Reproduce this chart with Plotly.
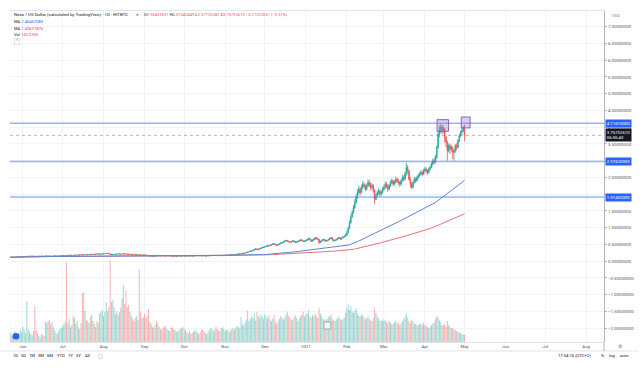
import pandas as pd
import plotly.graph_objects as go

# ---------------- data ----------------
start_date = "2020-05-22"
first_open = 0.116
last_open = 3.96459631

close = [
    0.118,0.121,0.119,0.122,0.125,0.128,0.126,0.130,0.132,0.135,
    0.138,0.142,0.140,0.145,0.148,0.146,0.150,0.152,0.149,0.147,0.144,0.146,0.150,0.153,0.151,0.148,0.150,0.155,0.158,0.156,0.152,0.150,0.153,0.157,0.160,0.158,0.155,0.157,0.160,0.162,
    0.165,0.168,0.170,0.167,0.172,0.176,0.180,0.178,0.175,0.180,0.184,0.182,0.186,0.190,0.188,0.185,0.190,0.194,0.192,0.196,0.200,0.198,0.204,0.210,0.206,0.212,0.220,0.216,0.210,0.214,0.218,
    0.222,0.226,0.230,0.235,0.228,0.205,0.198,0.202,0.206,0.210,0.214,0.218,0.215,0.212,0.216,0.220,0.218,0.214,0.208,0.205,0.210,0.206,0.200,0.196,0.192,0.195,0.190,0.186,0.182,0.185,0.188,
    0.184,0.180,0.168,0.160,0.155,0.158,0.152,0.156,0.160,0.158,0.162,0.165,0.163,0.166,0.164,0.160,0.158,0.161,0.163,0.160,0.155,0.152,0.148,0.150,0.153,0.155,0.157,0.156,0.154,0.156,
    0.158,0.155,0.153,0.156,0.158,0.156,0.154,0.157,0.160,0.163,0.165,0.162,0.160,0.163,0.161,0.158,0.156,0.159,0.162,0.165,0.168,0.172,0.170,0.174,0.171,0.168,0.166,0.170,0.168,0.172,0.175,
    0.178,0.182,0.180,0.185,0.190,0.195,0.200,0.198,0.205,0.210,0.215,0.220,0.225,0.232,0.240,0.250,0.262,0.275,0.290,0.300,0.315,0.330,0.350,0.370,0.345,0.360,0.380,0.395,0.410,0.420,
    0.435,0.450,0.470,0.460,0.480,0.500,0.520,0.510,0.495,0.480,0.500,0.520,0.540,0.560,0.580,0.600,0.620,0.600,0.585,0.570,0.590,0.610,0.580,0.560,0.575,0.600,0.620,0.640,0.610,0.590,0.600,
    0.620,0.650,0.680,0.640,0.600,0.630,0.660,0.700,0.680,0.650,0.560,0.590,0.620,0.650,0.630,0.600,0.620,0.650,0.680,0.700,0.640,0.610,0.630,0.650,0.680,0.700,0.660,0.690,0.720,0.740,0.780,
    0.850,0.980,1.150,1.320,1.450,1.600,1.750,1.900,2.050,2.150,2.050,2.200,2.300,2.250,2.150,2.250,2.350,2.300,2.200,2.250,2.100,1.850,1.950,2.050,2.100,2.000,2.050,2.150,
    2.200,2.300,2.250,2.150,2.250,2.350,2.400,2.300,2.350,2.450,2.400,2.350,2.300,2.400,2.500,2.450,2.600,2.800,2.700,2.450,2.300,2.200,2.350,2.450,2.400,2.500,2.550,2.600,2.650,2.600,2.700,
    2.750,2.700,2.650,2.750,2.800,2.900,3.000,2.950,3.100,3.400,3.800,3.950,4.000,3.900,3.950,3.700,3.550,3.300,3.450,3.350,3.400,3.250,3.300,3.450,3.400,3.600,3.750,3.850,3.900,3.970,
    3.757,
]
high = [
    0.122,0.124,0.123,0.125,0.128,0.131,0.130,0.133,0.135,0.138,
    0.141,0.145,0.146,0.148,0.151,0.152,0.153,0.156,0.155,0.152,0.150,0.149,0.153,0.157,0.156,0.154,0.153,0.158,0.162,0.161,0.159,0.155,0.156,0.160,0.164,0.163,0.161,0.160,0.163,0.166,
    0.169,0.172,0.174,0.173,0.176,0.180,0.184,0.183,0.180,0.184,0.188,0.187,0.190,0.195,0.193,0.191,0.196,0.199,0.197,0.200,0.205,0.204,0.209,0.216,0.213,0.217,0.226,0.224,0.219,0.219,0.223,
    0.227,0.231,0.236,0.242,0.238,0.232,0.208,0.207,0.211,0.215,0.219,0.223,0.221,0.218,0.221,0.226,0.224,0.221,0.216,0.211,0.215,0.212,0.207,0.202,0.198,0.200,0.197,0.192,0.189,0.190,0.193,
    0.190,0.187,0.182,0.170,0.163,0.163,0.160,0.160,0.165,0.163,0.166,0.169,0.168,0.170,0.169,0.166,0.163,0.165,0.167,0.165,0.161,0.157,0.154,0.154,0.157,0.159,0.161,0.160,0.159,0.160,
    0.162,0.160,0.157,0.160,0.162,0.160,0.158,0.161,0.164,0.167,0.169,0.167,0.164,0.167,0.165,0.163,0.160,0.163,0.166,0.169,0.172,0.177,0.175,0.179,0.177,0.173,0.171,0.174,0.173,0.176,0.180,
    0.183,0.187,0.186,0.190,0.195,0.200,0.206,0.204,0.210,0.216,0.221,0.226,0.232,0.239,0.248,0.258,0.271,0.285,0.300,0.312,0.328,0.345,0.366,0.390,0.375,0.372,0.392,0.408,0.425,0.436,
    0.452,0.466,0.488,0.482,0.494,0.516,0.538,0.532,0.518,0.502,0.512,0.534,0.556,0.576,0.596,0.618,0.642,0.632,0.608,0.594,0.604,0.628,0.615,0.592,0.590,0.614,0.636,0.662,0.648,0.620,0.618,
    0.645,0.672,0.705,0.690,0.650,0.648,0.682,0.725,0.718,0.690,0.660,0.612,0.640,0.672,0.662,0.640,0.640,0.668,0.702,0.725,0.708,0.650,0.652,0.670,0.700,0.728,0.708,0.705,0.742,0.768,0.810,
    0.900,1.040,1.220,1.400,1.520,1.680,1.850,1.990,2.150,2.260,2.200,2.280,2.400,2.360,2.290,2.320,2.440,2.420,2.350,2.330,2.300,2.150,2.020,2.120,2.180,2.140,2.120,2.220,
    2.280,2.380,2.360,2.300,2.310,2.420,2.480,2.440,2.420,2.520,2.500,2.460,2.400,2.460,2.580,2.560,2.680,2.950,2.880,2.720,2.520,2.350,2.400,2.520,2.500,2.560,2.620,2.660,2.720,2.700,2.760,
    2.820,2.800,2.740,2.800,2.860,2.960,3.060,3.080,3.180,3.450,3.850,4.050,4.100,4.070,4.050,3.980,3.750,3.600,3.520,3.500,3.480,3.420,3.350,3.500,3.520,3.650,3.800,3.900,3.980,4.040,
    4.075,
]
low = [
    0.114,0.116,0.116,0.117,0.120,0.123,0.123,0.124,0.128,0.130,
    0.132,0.135,0.137,0.136,0.142,0.143,0.142,0.147,0.145,0.144,0.140,0.141,0.143,0.147,0.148,0.144,0.145,0.147,0.152,0.152,0.149,0.147,0.146,0.150,0.154,0.154,0.152,0.151,0.154,0.157,
    0.158,0.162,0.165,0.163,0.165,0.170,0.174,0.174,0.171,0.172,0.178,0.178,0.180,0.184,0.184,0.180,0.183,0.188,0.188,0.190,0.194,0.194,0.196,0.202,0.202,0.204,0.210,0.210,0.205,0.208,0.212,
    0.215,0.220,0.224,0.228,0.222,0.198,0.190,0.195,0.200,0.204,0.208,0.212,0.211,0.207,0.210,0.214,0.213,0.208,0.203,0.200,0.203,0.201,0.195,0.191,0.187,0.189,0.186,0.181,0.177,0.180,0.182,
    0.178,0.172,0.160,0.153,0.149,0.152,0.148,0.150,0.154,0.154,0.156,0.160,0.159,0.161,0.160,0.156,0.154,0.156,0.159,0.156,0.151,0.148,0.144,0.146,0.148,0.151,0.153,0.152,0.150,0.151,
    0.153,0.151,0.149,0.151,0.154,0.152,0.150,0.152,0.155,0.158,0.161,0.158,0.156,0.158,0.157,0.154,0.152,0.154,0.157,0.160,0.163,0.166,0.165,0.168,0.166,0.163,0.162,0.164,0.164,0.166,0.170,
    0.172,0.176,0.175,0.178,0.184,0.189,0.193,0.192,0.196,0.202,0.207,0.212,0.217,0.222,0.229,0.238,0.248,0.260,0.272,0.285,0.296,0.310,0.326,0.345,0.330,0.338,0.352,0.372,0.388,0.400,
    0.412,0.428,0.445,0.440,0.452,0.474,0.495,0.490,0.478,0.462,0.470,0.494,0.512,0.532,0.552,0.572,0.592,0.585,0.566,0.548,0.560,0.580,0.562,0.540,0.550,0.566,0.592,0.612,0.595,0.572,0.578,
    0.586,0.612,0.640,0.625,0.580,0.595,0.620,0.650,0.652,0.625,0.520,0.545,0.580,0.610,0.610,0.580,0.592,0.612,0.642,0.668,0.620,0.585,0.598,0.618,0.640,0.668,0.640,0.648,0.680,0.705,0.735,
    0.760,0.840,0.960,1.120,1.300,1.420,1.560,1.720,1.860,2.000,1.960,2.020,2.160,2.180,2.080,2.120,2.220,2.220,2.120,2.150,2.050,1.700,1.820,1.920,1.980,1.920,1.960,2.020,
    2.100,2.160,2.180,2.060,2.120,2.220,2.300,2.240,2.260,2.320,2.340,2.280,2.220,2.260,2.380,2.380,2.420,2.560,2.620,2.400,2.200,2.150,2.180,2.320,2.340,2.380,2.460,2.520,2.560,2.540,2.580,
    2.650,2.620,2.580,2.620,2.720,2.780,2.860,2.900,2.920,3.050,3.350,3.700,3.820,3.780,3.820,3.550,3.400,3.000,3.250,3.200,3.280,3.050,3.000,3.240,3.300,3.360,3.560,3.700,3.780,3.860,
    3.577,
]
volume_k = [
    400,180,120,160,220,140,100,180,260,200,
    300,250,180,820,260,200,160,140,220,720,240,180,120,100,160,140,120,400,380,420,440,360,400,300,240,180,160,220,260,280,
    300,360,420,1600,380,460,300,340,520,480,360,420,300,260,380,980,1000,620,440,420,380,500,540,420,360,300,420,380,560,600,640,
    520,600,800,620,700,1640,800,840,700,560,620,540,600,680,880,1140,760,1040,700,740,600,520,460,420,480,520,440,1460,600,480,500,
    560,480,520,660,400,360,300,280,340,420,380,300,260,240,280,320,300,260,240,220,300,280,260,240,220,200,240,260,280,300,
    260,240,200,180,220,160,180,200,240,220,180,160,200,240,260,220,180,160,200,240,280,260,220,240,300,260,240,220,280,300,260,
    220,240,250,200,230,260,280,240,290,320,300,270,500,360,320,390,450,630,420,460,520,480,570,430,610,520,490,550,510,460,
    550,510,460,540,450,420,460,550,390,360,420,460,520,490,450,480,550,610,520,480,450,430,490,540,480,420,460,520,550,610,510,
    540,570,630,520,490,540,510,570,520,480,670,570,510,460,450,430,460,490,520,550,460,430,420,450,480,510,460,430,460,490,580,
    670,750,640,720,610,580,630,670,570,520,510,550,540,490,450,480,520,460,430,420,480,670,570,510,460,430,420,450,
    420,450,400,370,420,390,360,370,400,430,390,360,340,370,420,460,510,570,480,420,390,450,420,370,360,340,330,360,370,340,390,
    330,340,300,280,310,340,370,390,460,520,490,430,390,340,330,360,310,420,340,300,270,280,250,240,220,210,190,180,160,150,
    145,
]
month_ticks = ["2020-06-01","2020-07-01","2020-08-01","2020-09-01","2020-10-01","2020-11-01","2020-12-01",
               "2021-01-01","2021-02-01","2021-03-01","2021-04-01","2021-05-01","2021-06-01","2021-07-01","2021-08-01"]
month_labels = ["Jun","Jul","Aug","Sep","Oct","Nov","Dec","2021","Feb","Mar","Apr","May","Jun","Jul","Aug"]
price_ticks = [-2.0,-1.5,-1.0,-0.5,0.0,0.5,1.0,1.5,2.0,2.5,3.0,3.5,4.0,4.5,5.0,5.5,6.0,6.5,7.0]
hidden_ticks = [2.0, 3.0]          # labels covered by the line labels in the reference
hline_levels = [4.11610000, 2.97620000, 1.91430000]
ma_fast_len = 100
ma_slow_len = 200

# ---------------- derived ----------------
dates = pd.date_range(start_date, periods=len(close), freq="D")
opens = [first_open] + close[:-1]
opens[-1] = last_open
hi = [max(h, o, c) for h, o, c in zip(high, opens, close)]
lo = [min(l, o, c) for l, o, c in zip(low, opens, close)]
s = pd.Series(close, index=dates)
ma_fast = s.rolling(ma_fast_len, min_periods=1).mean()
ma_slow = s.rolling(ma_slow_len, min_periods=1).mean()

UP, DN = "#26a69a", "#ef5350"
vol_colors = ["rgba(38,166,154,0.45)" if c >= o else "rgba(239,83,80,0.45)" for o, c in zip(opens, close)]

FONT = "Roboto, Arial, sans-serif"
TXT = "#131722"
GRAY = "#787b86"

# plot area in pixels
L, R, T, B = 10, 609, 10, 342
W, H = 644, 371
def px(x): return (x - L) / (R - L)
def py(y): return (B - y) / (B - T)

fig = go.Figure()
fig.add_trace(go.Bar(x=dates, y=volume_k, marker=dict(color=vol_colors, line=dict(width=0)),
                     yaxis="y2", showlegend=False, hoverinfo="skip"))
fig.add_trace(go.Scatter(x=dates, y=ma_slow, mode="lines", line=dict(color="#e57373", width=1),
                         showlegend=False, hoverinfo="skip"))
fig.add_trace(go.Scatter(x=dates, y=ma_fast, mode="lines", line=dict(color="#5a85d8", width=1),
                         showlegend=False, hoverinfo="skip"))
fig.add_trace(go.Candlestick(x=dates, open=opens, high=hi, low=lo, close=close,
                             increasing=dict(line=dict(color=UP, width=0.8), fillcolor=UP),
                             decreasing=dict(line=dict(color=DN, width=0.8), fillcolor=DN),
                             whiskerwidth=0, showlegend=False, hoverinfo="skip"))

shapes = []
for lv in hline_levels:
    shapes.append(dict(type="line", xref="paper", x0=0, x1=1, yref="y", y0=lv, y1=lv,
                       line=dict(color="rgba(66,135,245,0.6)", width=1.5), layer="above"))
# last price line
shapes.append(dict(type="line", xref="paper", x0=0, x1=1, yref="y", y0=close[-1], y1=close[-1],
                   line=dict(color="rgba(120,123,134,0.55)", width=1, dash="dot")))
# highlight boxes
shapes.append(dict(type="rect", xref="x", yref="y", x0="2021-04-10 05:00", x1="2021-04-18 22:00",
                   y0=3.878, y1=4.226, fillcolor="rgba(149,117,205,0.35)",
                   line=dict(color="rgba(126,87,194,0.9)", width=1)))
shapes.append(dict(type="rect", xref="x", yref="y", x0="2021-04-28 12:00", x1="2021-05-05 05:00",
                   y0=3.979, y1=4.307, fillcolor="rgba(149,117,205,0.35)",
                   line=dict(color="rgba(126,87,194,0.9)", width=1)))
# separators
shapes.append(dict(type="line", xref="paper", yref="paper", x0=px(0), x1=px(W), y0=py(351), y1=py(351),
                   line=dict(color="#e0e3eb", width=1)))
shapes.append(dict(type="line", xref="paper", yref="paper", x0=1, x1=1, y0=py(342), y1=py(351),
                   line=dict(color="#b2b5be", width=1)))
# small logo bubble and marker box
shapes.append(dict(type="circle", xref="paper", yref="paper", x0=px(12.5), x1=px(19.5), y0=py(339.5), y1=py(333),
                   fillcolor="#2962ff", line=dict(width=0)))
shapes.append(dict(type="rect", xref="paper", yref="paper", x0=px(326.5), x1=px(333.5), y0=py(329), y1=py(322),
                   fillcolor="rgba(255,255,255,0.8)", line=dict(color="#9598a1", width=0.8)))

ann = []
def text(x, y, t, size=4.4, color=TXT, xanchor="left", **kw):
    ann.append(dict(xref="paper", yref="paper", x=px(x), y=py(y), text=t, showarrow=False,
                    xanchor=xanchor, yanchor="middle", font=dict(family=FONT, size=size, color=color), **kw))

text(12, 14, "Nexo / US Dollar (calculated by TradingView) · 1D · HITBTC")
text(135, 14, "●", size=4.5, color=UP)
red = DN
ohlc = (f"O<span style='color:{red}'>3.96459631</span> H<span style='color:{red}'>4.07540449</span> "
        f"L<span style='color:{red}'>3.57725282</span> C<span style='color:{red}'>3.75732610</span> "
        f"<span style='color:{red}'>−0.21322061 (−5.37%)</span>")
text(143, 14, ohlc, size=4.1)
text(12, 21, "MA <span style='color:#2962ff'>2.46452083</span>", size=4.1)
text(12, 27.5, "MA <span style='color:#f44336'>1.43697876</span>", size=4.1)
text(12, 34, "Vol <span style='color:#ef5350'>145.035K</span>", size=4.1)
text(17, 40.5, "⌃", size=4.5, color=GRAY, xanchor="center", bordercolor="#d1d4dc", borderwidth=0.6, borderpad=0.6)
text(621, 15, "USD", size=4, color=GRAY, xanchor="center")

# axis value labels for lines
for lv in hline_levels:
    ann.append(dict(xref="paper", yref="y", x=1, y=lv, text=f"{lv:.8f}", showarrow=False, xanchor="left",
                    yanchor="middle", xshift=0.5, bgcolor="#2962ff", borderpad=0.8,
                    font=dict(family=FONT, size=4.3, color="white")))
ann.append(dict(xref="paper", yref="y", x=1, y=close[-1], text="3.75732610<br>06:05:43", showarrow=False,
                xanchor="left", yanchor="middle", xshift=0.5, bgcolor="#131722", borderpad=0.8, align="left",
                font=dict(family=FONT, size=4.3, color="white")))

# bottom toolbar
for x, t in [(16, "1D"), (24, "5D"), (32.5, "1M"), (41, "3M"), (50, "6M"), (61, "YTD"), (71, "1Y"), (79.5, "5Y"), (88, "All")]:
    text(x, 356, t, size=4.2, xanchor="center")
text(101, 356, "▢", size=5, color=GRAY, xanchor="center")
text(598, 356, "17:54:16 (UTC+2)", size=4.2, xanchor="right")
text(607, 356, "%", size=4.2, xanchor="center")
text(617, 356, "log", size=4.2, xanchor="center")
text(630, 356, "auto", size=4.2, xanchor="center")
text(626, 346.5, "⚙", size=5, color=GRAY, xanchor="center")

fig.update_layout(
    width=W, height=H, autosize=False,
    margin=dict(l=L, r=W - R, t=T, b=H - B, pad=0),
    paper_bgcolor="white", plot_bgcolor="white",
    font=dict(family=FONT, size=4.4, color=TXT),
    showlegend=False, bargap=0.25, hovermode=False,
    shapes=shapes, annotations=ann,
    xaxis=dict(type="date", range=["2020-05-22 06:00", "2021-08-14 11:00"],
               tickmode="array", tickvals=month_ticks, ticktext=month_labels,
               showgrid=True, gridcolor="#f0f3fa", gridwidth=1,
               showline=True, linecolor="#e0e3eb", linewidth=1, mirror=True,
               ticks="", tickfont=dict(size=4.4, color="#50535e"), rangeslider=dict(visible=False),
               zeroline=False, fixedrange=True),
    yaxis=dict(side="right", range=[-2.411, 7.470], tickmode="array", tickvals=price_ticks,
               ticktext=["" if v in hidden_ticks else f"{v:.8f}".replace("-", "−") for v in price_ticks],
               showgrid=True, gridcolor="#f0f3fa", gridwidth=1, zeroline=False,
               showline=True, linecolor="#b2b5be", linewidth=1,
               ticks="outside", ticklen=2, tickcolor="#b2b5be",
               tickfont=dict(size=4.4, color="#50535e"), fixedrange=True),
    yaxis2=dict(overlaying="y", range=[0, 6640], visible=False, fixedrange=True),
)

fig.write_html("out.html", config={"displayModeBar": False, "staticPlot": True},
               post_script="document.body.style.margin='0px';document.body.style.padding='0px';")
